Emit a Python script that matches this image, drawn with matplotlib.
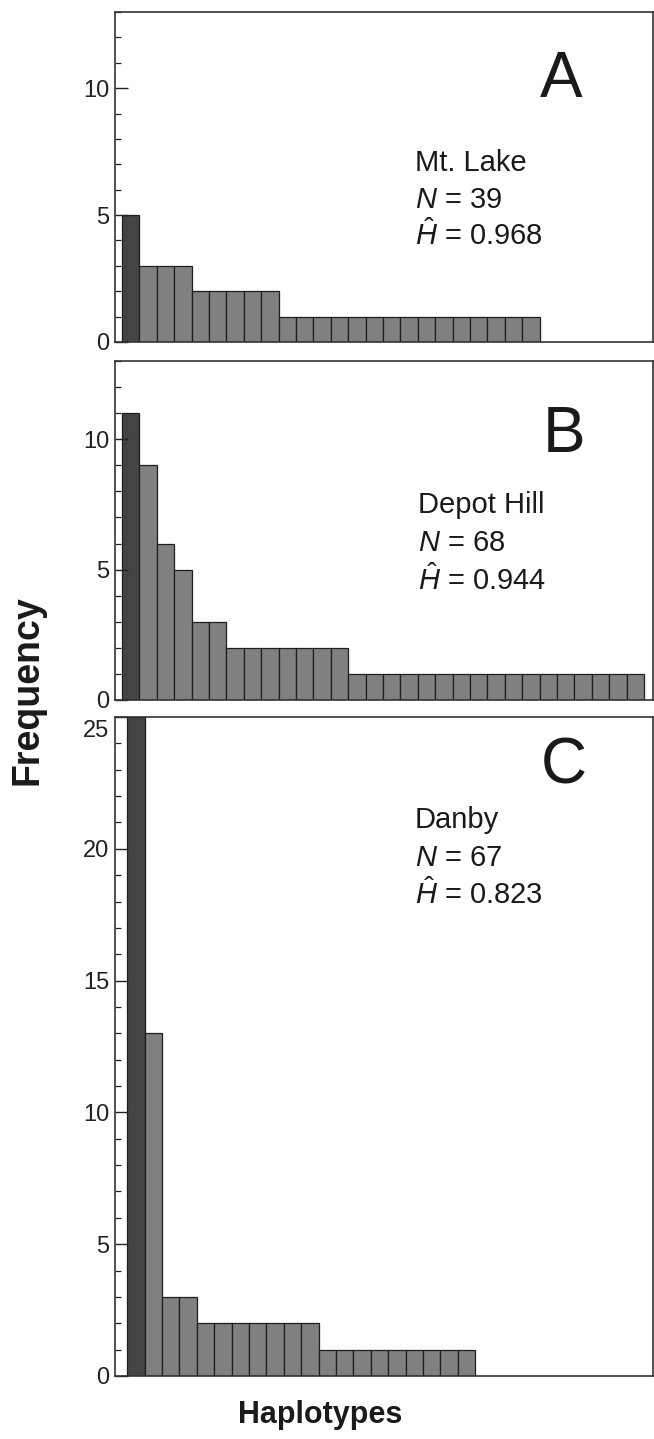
"""Haplotype frequency distributions for three populations (panels A-C)."""

import matplotlib
matplotlib.use("Agg")
import matplotlib.pyplot as plt
import matplotlib.transforms as mtransforms
from matplotlib.ticker import MultipleLocator

plt.rcParams['font.family'] = ['Liberation Sans', 'DejaVu Sans']
plt.rcParams['mathtext.fontset'] = 'custom'
plt.rcParams['mathtext.rm'] = 'Liberation Sans'
plt.rcParams['mathtext.it'] = 'Liberation Sans:italic'

# Frequencies of each haplotype, ranked from most to least common.
freq_a = [5, 3, 3, 3, 2, 2, 2, 2, 2, 1, 1, 1, 1, 1, 1, 1, 1, 1, 1, 1, 1, 1, 1, 1]
freq_b = [11, 9, 6, 5, 3, 3, 2, 2, 2, 2, 2, 2, 2,
          1, 1, 1, 1, 1, 1, 1, 1, 1, 1, 1, 1, 1, 1, 1, 1, 1]
freq_c = [25, 13, 3, 3, 2, 2, 2, 2, 2, 2, 2, 1, 1, 1, 1, 1, 1, 1, 1, 1]

panel_letters = ['A', 'B', 'C']
site_names = ['Mt. Lake', 'Depot Hill', 'Danby']
sample_sizes = [39, 68, 67]
diversity = ['0.968', '0.944', '0.823']
y_tops = [13, 13, 25]

W, H = 654, 1439
fig = plt.figure(figsize=(W / 100, H / 100), dpi=100)

# axes boxes in pixels: (top, bottom) of each panel
boxes = [(12, 342), (361, 700), (717, 1376)]
left_px, right_px = 115, 653
bar_start = [0.4, 0.4, 0.7]   # gap between spine and first bar, in bar widths
letter_x = [0.83, 0.835, 0.835]
letter_y = [0.795, 0.783, 0.925]
text_x = [0.557, 0.563, 0.557]
text_y = [0.518, 0.551, 0.8316]
text_step = [0.112, 0.1127, 0.0577]

for i, freqs in enumerate([freq_a, freq_b, freq_c]):
    top, bot = boxes[i]
    ax = fig.add_axes([left_px / W, (H - bot) / H,
                       (right_px - left_px) / W, (bot - top) / H])
    xs = range(len(freqs))
    colors = ['#444444'] + ['#808080'] * (len(freqs) - 1)
    ax.bar(xs, freqs, width=1.0, align='edge', color=colors,
           edgecolor='#1e1e1e', linewidth=0.9)
    span = (right_px - left_px) / 17.4
    ax.set_xlim(-bar_start[i], span - bar_start[i])
    ax.set_ylim(0, y_tops[i])
    ax.set_xticks([])
    ax.yaxis.set_major_locator(MultipleLocator(5))
    ax.yaxis.set_minor_locator(MultipleLocator(1))
    ax.tick_params(axis='y', which='major', direction='in', length=9,
                   width=1.0, labelsize=17, pad=4, colors='#222222')
    ax.tick_params(axis='y', which='minor', direction='in', length=4,
                   width=0.9, colors='#222222')
    for sp in ax.spines.values():
        sp.set_color('#333333')
        sp.set_linewidth(1.2)

    if i == 2:
        # top label sits a little below its tick, as in the print
        fig.canvas.draw()
        shift = mtransforms.ScaledTranslation(0, -8 / 72, fig.dpi_scale_trans)
        for lbl in ax.get_yticklabels():
            if lbl.get_text() == '25':
                lbl.set_transform(lbl.get_transform() + shift)

    ax.text(letter_x[i], letter_y[i], panel_letters[i], transform=ax.transAxes,
            fontsize=46, ha='center', va='center', color='#1a1a1a')
    x0, y0, step = text_x[i], text_y[i], text_step[i]
    ax.text(x0, y0, site_names[i], transform=ax.transAxes,
            fontsize=21, va='baseline', color='#1a1a1a')
    ax.text(x0, y0 - step, r'$N$ = %d' % sample_sizes[i],
            transform=ax.transAxes, fontsize=21, va='baseline',
            color='#1a1a1a')
    ax.text(x0, y0 - 2 * step, r'$\hat{H}$ = ' + diversity[i],
            transform=ax.transAxes, fontsize=21, va='baseline',
            color='#1a1a1a')

fig.text(28 / W, (H - 690) / H, 'Frequency', rotation=90, fontsize=27,
         fontweight='bold', ha='center', va='center', color='#1a1a1a')
fig.text(320 / W, (H - 1415) / H, 'Haplotypes', fontsize=22,
         fontweight='bold', ha='center', va='center', color='#1a1a1a')

fig.savefig('out.png', dpi=100)
